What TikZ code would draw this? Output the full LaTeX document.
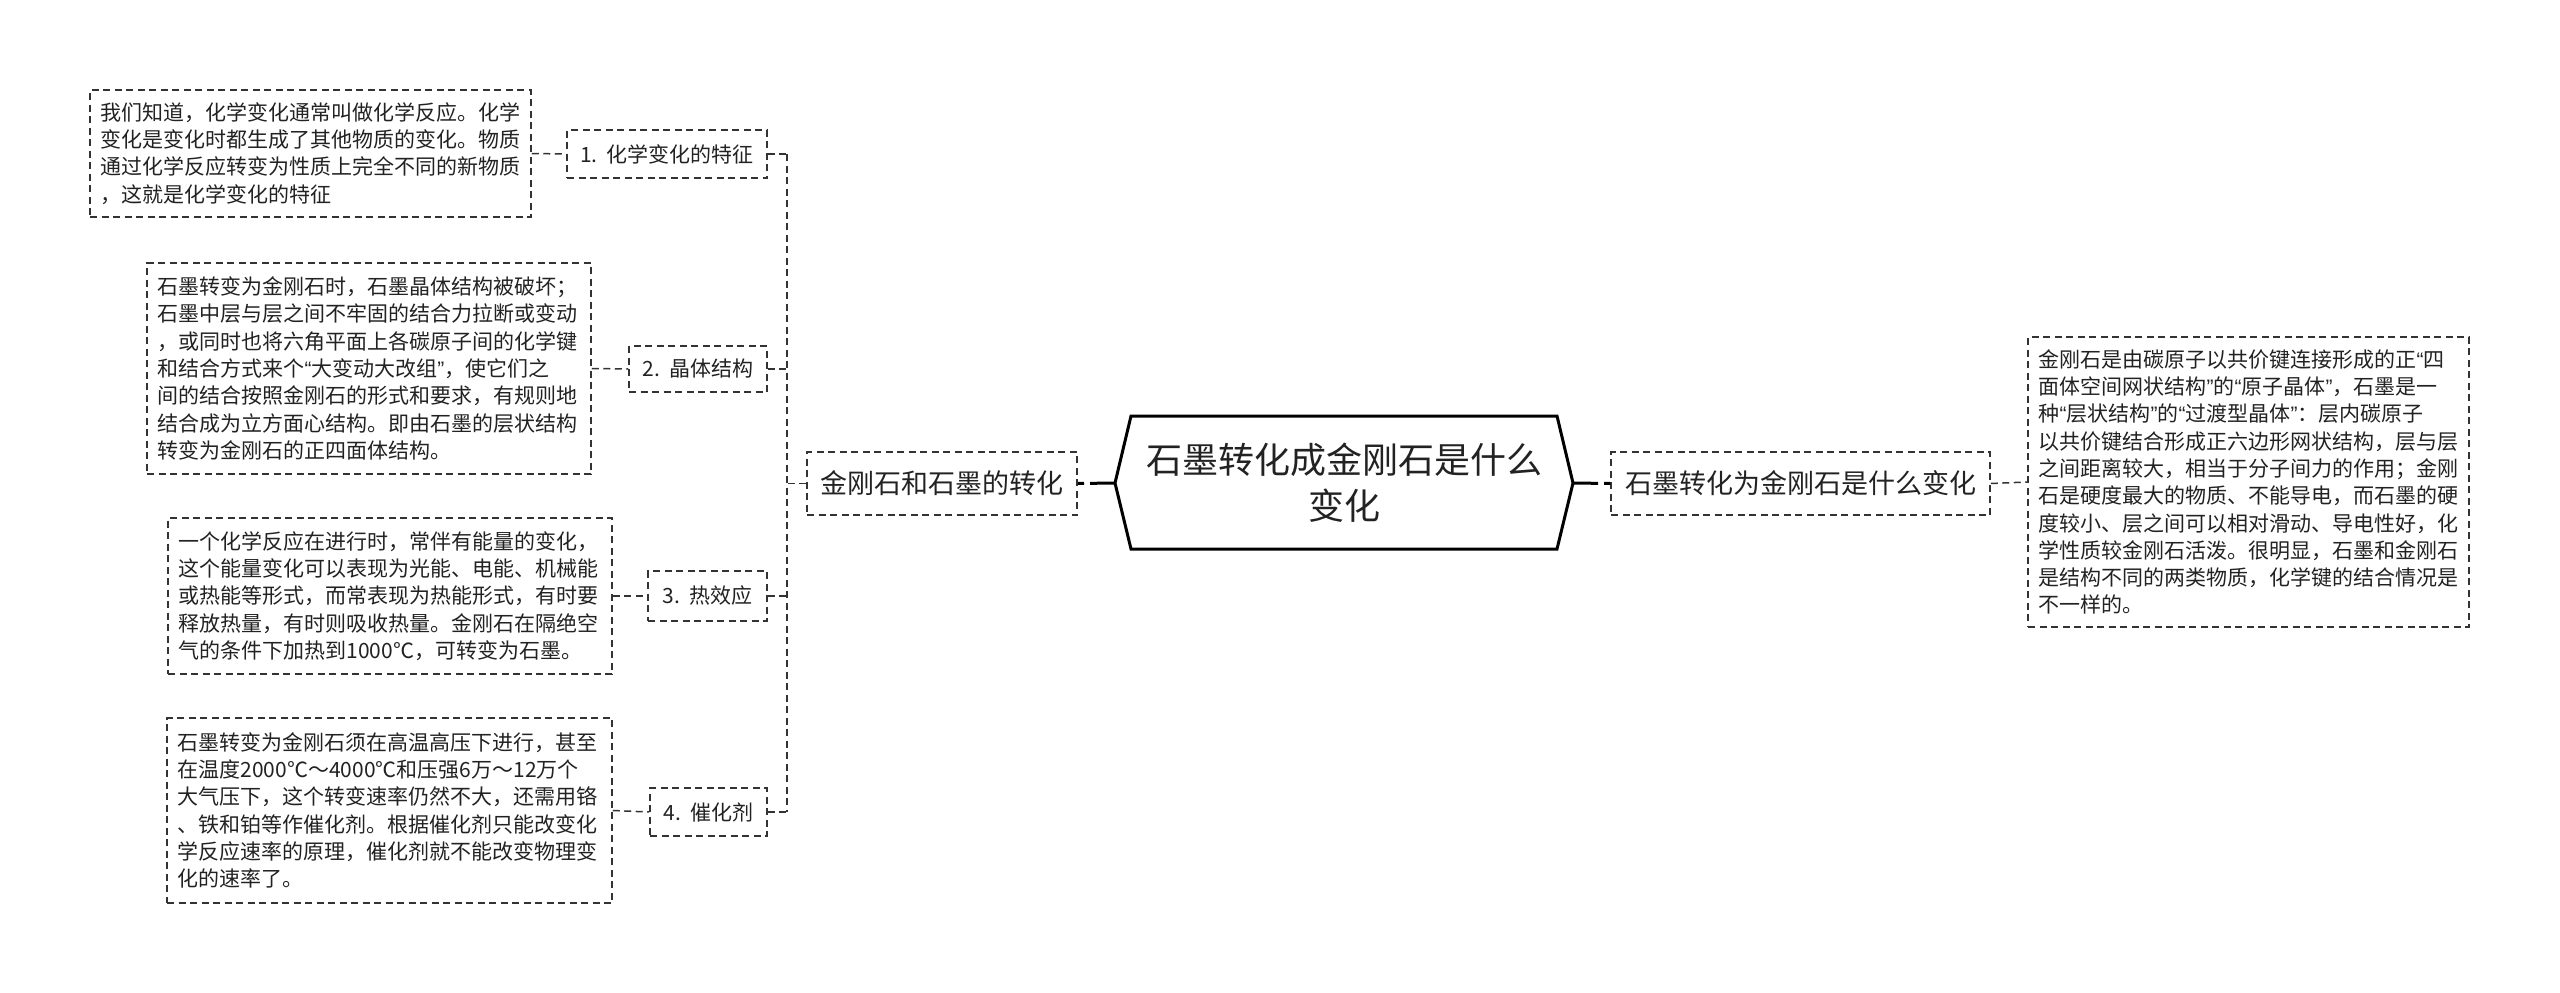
\documentclass[tikz,border=0pt]{standalone}
\usepackage{fontspec}
\setmainfont{Noto Sans CJK SC}
\newfontfamily\qfont{Liberation Sans}
\newcommand\myoq{{\qfont “}}
\newcommand\mycq{{\qfont ”}}
\definecolor{lc}{HTML}{333333}
\definecolor{tc}{HTML}{222222}
\tikzset{
  dline/.style={draw=lc, line width=1.5pt, dash pattern=on 7pt off 4.5pt},
  tbox/.style={dline, text=tc, inner xsep=10.5pt, inner ysep=0pt, align=left,
    font=\fontsize{21}{27.3}\selectfont},
  lbox/.style={dline, text=tc, inner sep=0pt, align=center,
    font=\fontsize{21}{27}\selectfont},
  bbox/.style={dline, text=tc, inner sep=0pt, align=center,
    font=\fontsize{27}{34}\selectfont},
  hexline/.style={draw=black, line width=3pt, line join=miter},
  mainline/.style={draw=black, line width=3pt, dash pattern=on 25pt off 6pt},
}
\begin{document}
\begin{tikzpicture}[x=1pt,y=-1pt]
\useasboundingbox (0,0) rectangle (2560,993);
% text boxes
\node[tbox, text width=420pt, minimum height=127pt] (t1) at (310.5,153.5) {我们知道，化学变化通常叫做化学反应。化学\\变化是变化时都生成了其他物质的变化。物质\\通过化学反应转变为性质上完全不同的新物质\\，这就是化学变化的特征};
\node[tbox, text width=423pt, minimum height=211pt] (t2) at (369,368.5) {石墨转变为金刚石时，石墨晶体结构被破坏；\\石墨中层与层之间不牢固的结合力拉断或变动\\，或同时也将六角平面上各碳原子间的化学键\\和结合方式来个\myoq 大变动大改组\mycq ，使它们之\\间的结合按照金刚石的形式和要求，有规则地\\结合成为立方面心结构。即由石墨的层状结构\\转变为金刚石的正四面体结构。};
\node[tbox, text width=423pt, minimum height=156pt] (t3) at (390,596) {一个化学反应在进行时，常伴有能量的变化，\\这个能量变化可以表现为光能、电能、机械能\\或热能等形式，而常表现为热能形式，有时要\\释放热量，有时则吸收热量。金刚石在隔绝空\\气的条件下加热到1000℃，可转变为石墨。};
\node[tbox, text width=424pt, minimum height=185pt] (t4) at (389.5,810.5) {石墨转变为金刚石须在高温高压下进行，甚至\\在温度2000℃～4000℃和压强6万～12万个\\大气压下，这个转变速率仍然不大，还需用铬\\、铁和铂等作催化剂。根据催化剂只能改变化\\学反应速率的原理，催化剂就不能改变物理变\\化的速率了。};
% labels
\node[lbox, minimum width=200pt, minimum height=48pt] (l1) at (667,154) {1.\ \ 化学变化的特征};
\node[lbox, minimum width=138pt, minimum height=46pt] (l2) at (698,369) {2.\ \ 晶体结构};
\node[lbox, minimum width=119pt, minimum height=50pt] (l3) at (707.5,596) {3.\ \ 热效应};
\node[lbox, minimum width=117pt, minimum height=48pt] (l4) at (708.5,812) {4.\ \ 催化剂};
% branches
\node[bbox, minimum width=270pt, minimum height=63pt] (bl) at (942,483.5) {金刚石和石墨的转化};
\node[bbox, minimum width=379pt, minimum height=63pt] (br) at (1800.5,483.5) {石墨转化为金刚石是什么变化};
% right text
\node[tbox, text width=420pt, minimum height=290pt] (rt) at (2248.5,482) {金刚石是由碳原子以共价键连接形成的正\myoq 四\\面体空间网状结构\mycq 的\myoq 原子晶体\mycq ，石墨是一\\种\myoq 层状结构\mycq 的\myoq 过渡型晶体\mycq ：层内碳原子\\以共价键结合形成正六边形网状结构，层与层\\之间距离较大，相当于分子间力的作用；金刚\\石是硬度最大的物质、不能导电，而石墨的硬\\度较小、层之间可以相对滑动、导电性好，化\\学性质较金刚石活泼。很明显，石墨和金刚石\\是结构不同的两类物质，化学键的结合情况是\\不一样的。};
% center hexagon
\coordinate (hl) at (1115,483);
\coordinate (hr) at (1573,483);
\draw[hexline] (hl) -- (1131,416) -- (1557,416) -- (hr) -- (1557,549) -- (1131,549) -- cycle;
\node[text=tc, align=center, font=\fontsize{36}{46}\selectfont] (c) at (1344,483) {石墨转化成金刚石是什么\\变化};
% connectors
\coordinate (sp) at (787,0);
\draw[dline] (l1.east -| sp) -- (l4.east -| sp);
\draw[dline] (l1.east) -- (l1.east -| sp);
\draw[dline] (l2.east) -- (l2.east -| sp);
\draw[dline] (l3.east) -- (l3.east -| sp);
\draw[dline] (l4.east) -- (l4.east -| sp);
\draw[dline] (bl.west) -- (bl.west -| sp);
\draw[dline] (t1.east) -- (l1.west);
\draw[dline] (t2.east) -- (l2.west);
\draw[dline] (t3.east) -- (l3.west);
\draw[dline] (t4.east) -- (l4.west);
\draw[mainline] (hl) -- (bl.east);
\draw[mainline] (hr) -- (br.west);
\draw[dline] (br.east) -- (rt.west);
\end{tikzpicture}
\end{document}
